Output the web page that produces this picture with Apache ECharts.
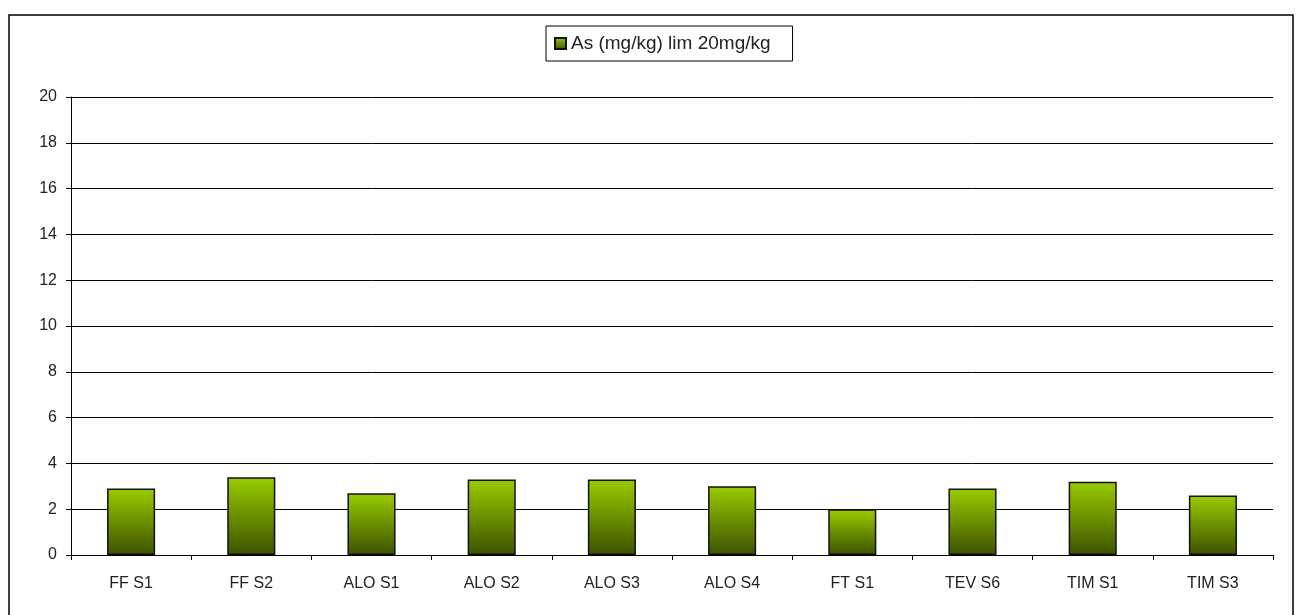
<!DOCTYPE html>
<html>
<head>
<meta charset="utf-8">
<script src="https://cdn.jsdelivr.net/npm/echarts@6/dist/echarts.min.js"></script>
<style>
  html, body { margin: 0; padding: 0; background: #fff; }
  #chart { width: 1300px; height: 615px; }
</style>
</head>
<body>
<div id="chart"></div>
<script>
// sample sites
const categories = ['FF S1', 'FF S2', 'ALO S1', 'ALO S2', 'ALO S3', 'ALO S4', 'FT S1', 'TEV S6', 'TIM S1', 'TIM S3'];
// As (mg/kg)
const asValues = [2.9, 3.4, 2.7, 3.3, 3.3, 3.0, 2.0, 2.9, 3.2, 2.6];
const seriesName = 'As (mg/kg) lim 20mg/kg';

const chart = echarts.init(document.getElementById('chart'));

const barFill = new echarts.graphic.LinearGradient(0, 0, 0, 1, [
  { offset: 0, color: '#99cc00' },
  { offset: 1, color: '#3d5200' }
]);

chart.setOption({
  animation: false,
  textStyle: { fontFamily: 'Liberation Sans, Arial, sans-serif' },
  graphic: [{
    type: 'rect',
    shape: { x: 9, y: 15, width: 1284, height: 640 },
    style: { fill: 'none', stroke: '#000', lineWidth: 1.5 },
    silent: true
  }],
  legend: {
    left: 546,
    top: 26,
    data: [seriesName],
    borderColor: '#000',
    borderWidth: 1,
    borderRadius: 0,
    padding: [8, 22, 8, 8],
    itemWidth: 11,
    itemHeight: 11,
    itemGap: 4,
    icon: 'rect',
    textStyle: { fontSize: 19, color: '#222' }
  },
  grid: { left: 71, right: 27, top: 97, bottom: 60 },
  xAxis: {
    type: 'category',
    data: categories,
    axisLine: { lineStyle: { color: '#000', width: 1 } },
    axisTick: { show: true, length: 5, lineStyle: { color: '#000' } },
    axisLabel: { color: '#222', fontSize: 16, margin: 21 }
  },
  yAxis: {
    type: 'value',
    min: 0,
    max: 20,
    interval: 2,
    axisLine: { show: true, lineStyle: { color: '#000', width: 1 } },
    axisTick: { show: true, length: 5, lineStyle: { color: '#000' } },
    axisLabel: { color: '#222', fontSize: 16, margin: 14 },
    splitLine: { lineStyle: { color: '#000', width: 1 } }
  },
  series: [{
    name: seriesName,
    type: 'bar',
    data: asValues,
    barWidth: '40%',
    itemStyle: {
      color: barFill,
      borderColor: '#111',
      borderWidth: 1.5
    }
  }]
});
</script>
</body>
</html>
